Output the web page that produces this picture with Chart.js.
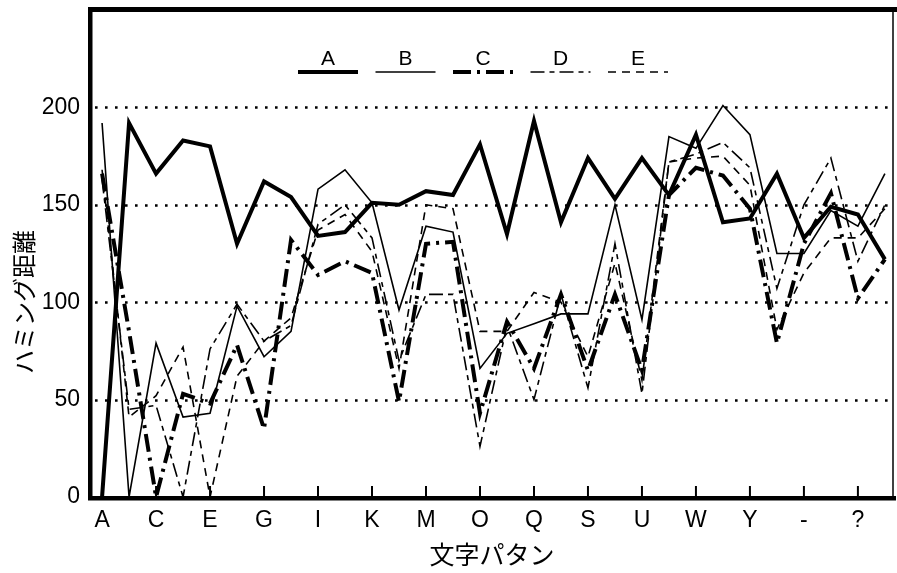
<!DOCTYPE html>
<html>
<head>
<meta charset="utf-8">
<script src="https://cdn.jsdelivr.net/npm/chart.js@4.4.1/dist/chart.umd.min.js"></script>
<style>
  html, body { margin: 0; padding: 0; background: #fff; }
</style>
</head>
<body>
<canvas id="myChart" width="897" height="573"></canvas>
<script>
// x categories (only every other one is labelled in the figure)
const categories = ['A','B','C','D','E','F','G','H','I','J','K','L','M','N','O','P','Q','R','S','T','U','V','W','X','Y','Z','-','*','?','!'];
const yTicks = [0, 50, 100, 150, 200];
const seriesNames = ['A', 'B', 'C', 'D', 'E'];

const seriesA = [0,192,166,183,180,130,162,154,134,136,151,150,157,155,181,135,193,141,174,153,174,155,186,141,143,166,133,149,145,122];
const seriesB = [192,0,79,41,43,98,72,85,158,168,151,96,139,136,66,84,89,94,94,150,91,185,179,201,186,125,125,147,139,166];
const seriesC = [166,85,0,53,48,78,35,132,114,121,115,49,130,131,43,90,66,104,65,104,65,155,169,165,148,79,130,156,102,122];
const seriesD = [163,45,47,0,76,99,80,88,140,150,133,70,104,104,26,88,50,104,56,130,53,172,176,182,169,107,150,174,121,150];
const seriesE = [168,41,52,77,0,62,80,92,137,145,126,66,150,148,85,85,105,100,72,120,60,172,174,175,160,86,115,133,133,148];

const allSeries = [seriesA, seriesB, seriesC, seriesD, seriesE];
const lineStyles = [
    { width: 4,   dash: [] },
    { width: 1.6, dash: [] },
    { width: 4,   dash: [18, 6, 3, 6] },
    { width: 1.6, dash: [14, 5, 5, 5] },
    { width: 1.6, dash: [8, 6] },
];

const tickFont = { family: "'Liberation Sans', Arial, sans-serif", size: 23 };

const toPoints = arr => arr.map((v, i) => ({ x: i, y: v }));

const data = {
    datasets: allSeries.map((s, i) => ({
        label: seriesNames[i],
        data: toPoints(s),
        borderColor: '#000',
        borderWidth: lineStyles[i].width,
        borderDash: lineStyles[i].dash,
        pointRadius: 0,
        tension: 0,
        fill: false,
    }))
};

// dotted grid, frame, inward ticks
const framePlugin = {
    id: 'frame',
    beforeDatasetsDraw(chart) {
        const { ctx, chartArea: a, scales: { y } } = chart;
        ctx.save();
        ctx.strokeStyle = '#000';
        ctx.lineWidth = 2.6;
        ctx.setLineDash([2.6, 7.4]);
        yTicks.forEach(v => {
            if (v === 0) return;
            const py = Math.round(y.getPixelForValue(v)) + 0.5;
            ctx.beginPath();
            ctx.moveTo(a.left + 4, py);
            ctx.lineTo(a.right, py);
            ctx.stroke();
        });
        ctx.restore();
    },
    afterDatasetsDraw(chart) {
        const { ctx, chartArea: a, scales: { x } } = chart;
        ctx.save();
        ctx.strokeStyle = '#000';
        ctx.setLineDash([]);
        // ticks on bottom axis
        ctx.lineWidth = 2;
        categories.forEach((c, i) => {
            if (i % 2) return;
            const px = x.getPixelForValue(i);
            ctx.beginPath();
            ctx.moveTo(px, a.bottom);
            ctx.lineTo(px, a.bottom - 11);
            ctx.stroke();
        });
        // frame
        ctx.lineWidth = 1.5;
        ctx.beginPath();
        ctx.moveTo(a.right, a.top);
        ctx.lineTo(a.right, a.bottom);
        ctx.stroke();
        ctx.fillStyle = '#000';
        ctx.fillRect(a.left - 3, a.top - 3, 4.5, a.bottom - a.top + 5);
        ctx.fillRect(a.left - 3, a.bottom - 1, a.right - a.left + 6, 4.5);
        ctx.fillRect(a.left - 3, a.top - 3, a.right - a.left + 10, 5);
        ctx.restore();
    }
};

// legend: letter above a line sample
const legendPlugin = {
    id: 'legendLines',
    afterDatasetsDraw(chart) {
        const { ctx, chartArea: a } = chart;
        ctx.save();
        ctx.fillStyle = '#000';
        ctx.strokeStyle = '#000';
        ctx.font = "21px 'Liberation Sans', Arial, sans-serif";
        ctx.textAlign = 'center';
        ctx.textBaseline = 'alphabetic';
        chart.data.datasets.forEach((ds, i) => {
            const x0 = a.left + 207 + i * 77.5;
            const ly = 72;
            ctx.lineWidth = ds.borderWidth;
            ctx.setLineDash(ds.borderDash);
            ctx.beginPath();
            ctx.moveTo(x0, ly);
            ctx.lineTo(x0 + 60, ly);
            ctx.stroke();
            ctx.setLineDash([]);
            ctx.fillText(ds.label, x0 + 30, ly - 7);
        });
        ctx.restore();
    }
};

const yTitlePlugin = {
    id: 'yTitle',
    afterDraw(chart) {
        const { ctx } = chart;
        ctx.save();
        ctx.translate(24, 302);
        ctx.rotate(-Math.PI / 2);
        ctx.fillStyle = '#000';
        ctx.font = "24px 'Noto Sans CJK JP', sans-serif";
        ctx.textAlign = 'center';
        ctx.textBaseline = 'middle';
        ctx.fillText('ハミング距離', 0, 0);
        ctx.restore();
    }
};

const config = {
    type: 'line',
    data: data,
    options: {
        responsive: false,
        devicePixelRatio: 1,
        animation: false,
        layout: { padding: { left: 0, right: 4, top: 10, bottom: 0 } },
        plugins: {
            legend: { display: false },
            tooltip: { enabled: false },
        },
        scales: {
            x: {
                type: 'linear',
                min: -0.41,
                max: 29.3,
                grid: { display: false, drawTicks: false },
                border: { display: false },
                afterBuildTicks: scale => { scale.ticks = categories.map((c, i) => ({ value: i })); },
                afterFit: scale => {
                    scale.height = 76;
                    scale.paddingLeft = 0;
                    scale.paddingRight = 0;
                },
                ticks: {
                    autoSkip: false,
                    maxRotation: 0,
                    padding: 10,
                    color: '#000',
                    font: tickFont,
                    callback: v => (v % 2 === 0 ? categories[v] : ''),
                },
                title: {
                    display: true,
                    text: '文字パタン',
                    color: '#000',
                    font: { family: "'Noto Sans CJK JP', sans-serif", size: 25 },
                    padding: { top: 0, bottom: 4 },
                },
            },
            y: {
                min: 0,
                max: 250,
                grid: { display: false, drawTicks: false },
                border: { display: false },
                afterBuildTicks: scale => { scale.ticks = yTicks.map(v => ({ value: v })); },
                afterFit: scale => {
                    scale.width = 91;
                    scale.paddingTop = 0;
                    scale.paddingBottom = 0;
                },
                ticks: {
                    padding: 11,
                    color: '#000',
                    font: tickFont,
                },
            },
        },
    },
    plugins: [framePlugin, legendPlugin, yTitlePlugin],
};

new Chart(document.getElementById('myChart'), config);
</script>
</body>
</html>
